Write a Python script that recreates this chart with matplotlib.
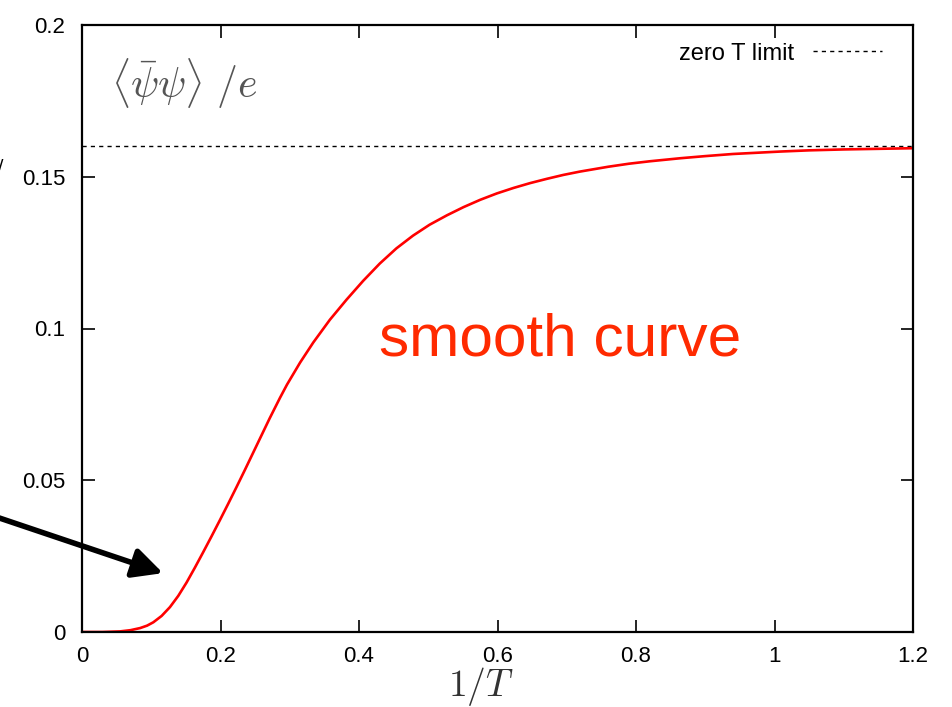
import matplotlib
matplotlib.use("Agg")
import matplotlib.pyplot as plt

# Data
inv_T = [0, 0.03, 0.055, 0.07, 0.084, 0.094, 0.103, 0.115, 0.127, 0.139, 0.151,
         0.163, 0.175, 0.187, 0.199, 0.211, 0.223, 0.235, 0.247, 0.259, 0.271,
         0.286, 0.296, 0.315, 0.334, 0.358, 0.382, 0.406, 0.430, 0.454, 0.478,
         0.502, 0.527, 0.551, 0.575, 0.599, 0.623, 0.647, 0.671, 0.695, 0.719,
         0.76, 0.79, 0.82, 0.864, 0.9, 0.94, 1.008, 1.05, 1.1, 1.15, 1.2]
condensate = [0, 0, 0.0002, 0.0006, 0.0013, 0.0021, 0.0032, 0.0053, 0.0082, 0.0119,
              0.0163, 0.0212, 0.0263, 0.0315, 0.0368, 0.0422, 0.0477, 0.0533,
              0.059, 0.0647, 0.0704, 0.0772, 0.0815, 0.0888, 0.0954, 0.1029,
              0.1095, 0.1157, 0.1214, 0.1264, 0.1306, 0.1342, 0.1373, 0.14,
              0.1424, 0.1445, 0.1463, 0.1479, 0.1493, 0.1506, 0.1517, 0.1533,
              0.1543, 0.1551, 0.1561, 0.1568, 0.1575, 0.1583, 0.1587, 0.159,
              0.1592, 0.1594]
zero_T_limit = 0.16
x_ticks = [0, 0.2, 0.4, 0.6, 0.8, 1.0, 1.2]
x_tick_labels = ["0", "0.2", "0.4", "0.6", "0.8", "1", "1.2"]
y_ticks = [0, 0.05, 0.1, 0.15, 0.2]
y_tick_labels = ["0", "0.05", "0.1", "0.15", "0.2"]

plt.rcParams['font.family'] = ['Liberation Sans', 'DejaVu Sans']
plt.rcParams['mathtext.fontset'] = 'cm'

fig = plt.figure(figsize=(9.52, 7.07), dpi=100)
ax = fig.add_axes([82/952, 1-632/707, (913-82)/952, (632-25)/707])

ax.axhline(zero_T_limit, color='black', lw=1.0, ls=(0, (3, 3)), label='zero T limit')
ax.plot(inv_T, condensate, color='#ff0000', lw=1.9, solid_joinstyle='round')

ax.set_xlim(0, 1.2)
ax.set_ylim(0, 0.2)
ax.set_xticks(x_ticks)
ax.set_xticklabels(x_tick_labels)
ax.set_yticks(y_ticks)
ax.set_yticklabels(y_tick_labels)
ax.tick_params(direction='in', length=9, width=1.2, top=True, right=True,
               labelsize=16, pad=10)
ax.tick_params(axis='y', pad=12)
for s in ax.spines.values():
    s.set_linewidth(1.6)

ax.legend(loc='upper right', frameon=False, markerfirst=False,
          fontsize=17, handlelength=2.9, handletextpad=0.8, borderaxespad=0.3,
          bbox_to_anchor=(0.982, 0.998))

ax.text(0.035, 0.903, r'$\langle\bar{\psi}\psi\rangle\ /e$', transform=ax.transAxes,
        fontsize=30, color='#555555', ha='left', va='center')
fig.text(481/952, 1-687/707, r'$1/T$', fontsize=27, color='#333333',
         ha='center', va='center')

ax.text(0.69, 0.0962, 'smooth curve', color='#ff2a00', fontsize=43.5,
        ha='center', va='center')

ax.annotate('', xy=(0.117, 0.0194), xytext=(-0.125, 0.038),
            arrowprops=dict(arrowstyle='-|>', lw=4, color='black',
                            mutation_scale=45, shrinkA=0, shrinkB=0),
            annotation_clip=False)

fig.text(-0.002, 1-167/707, '/', fontsize=14, color='black', ha='left', va='center')

fig.savefig('out.png', dpi=100)
